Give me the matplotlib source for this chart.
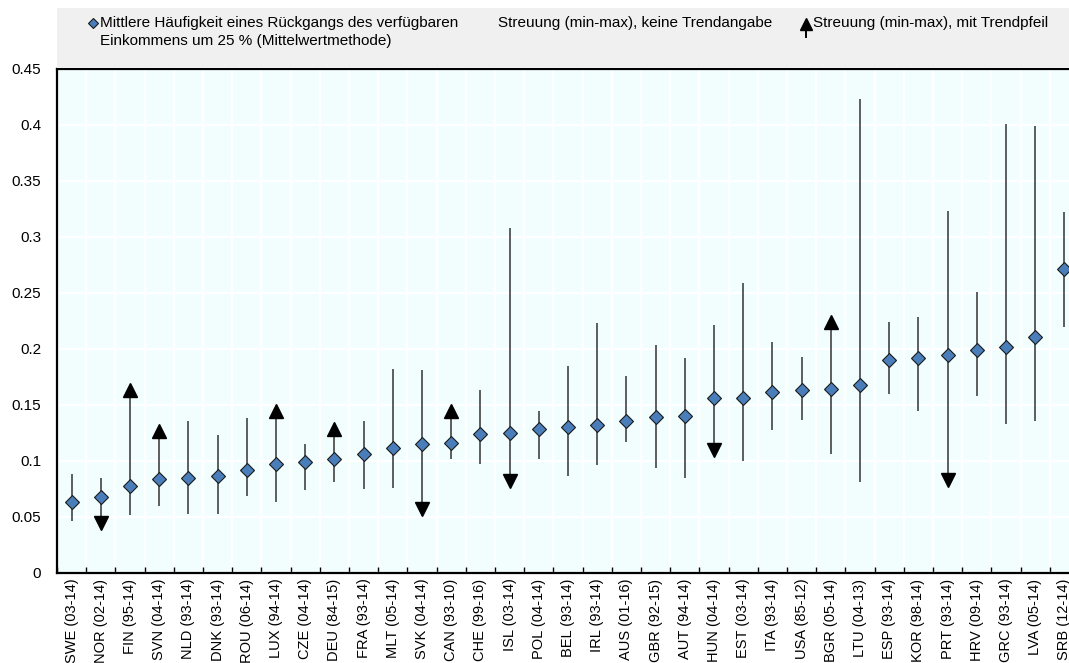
import matplotlib
matplotlib.use("Agg")
import matplotlib.pyplot as plt
from matplotlib.lines import Line2D
from matplotlib.patches import Rectangle

plt.rcParams['font.family'] = ['Liberation Sans', 'DejaVu Sans']
plt.rcParams['font.size'] = 11

# data
countries = ["SWE", "NOR", "FIN", "SVN", "NLD", "DNK", "ROU", "LUX", "CZE", "DEU",
             "FRA", "MLT", "SVK", "CAN", "CHE", "ISL", "POL", "BEL", "IRL", "AUS",
             "GBR", "AUT", "HUN", "EST", "ITA", "USA", "BGR", "LTU", "ESP", "KOR",
             "PRT", "HRV", "GRC", "LVA", "SRB"]
periods = ["03-14", "02-14", "95-14", "04-14", "93-14", "93-14", "06-14", "94-14", "04-14", "84-15",
           "93-14", "05-14", "04-14", "93-10", "99-16", "03-14", "04-14", "93-14", "93-14", "01-16",
           "92-15", "94-14", "04-14", "03-14", "93-14", "85-12", "05-14", "04-13", "93-14", "98-14",
           "93-14", "09-14", "93-14", "05-14", "12-14"]
mean = [0.063, 0.068, 0.078, 0.084, 0.085, 0.087, 0.092, 0.097, 0.099, 0.102,
        0.106, 0.112, 0.115, 0.116, 0.124, 0.125, 0.129, 0.130, 0.132, 0.136,
        0.139, 0.140, 0.156, 0.156, 0.162, 0.163, 0.164, 0.168, 0.190, 0.192,
        0.195, 0.199, 0.202, 0.211, 0.271]
low = [0.046, 0.045, 0.052, 0.060, 0.053, 0.053, 0.069, 0.063, 0.074, 0.081,
       0.075, 0.076, 0.057, 0.102, 0.097, 0.082, 0.102, 0.087, 0.096, 0.117,
       0.094, 0.085, 0.110, 0.100, 0.128, 0.137, 0.106, 0.081, 0.160, 0.145,
       0.083, 0.158, 0.133, 0.136, 0.220]
high = [0.088, 0.085, 0.163, 0.127, 0.136, 0.123, 0.138, 0.145, 0.115, 0.129,
        0.136, 0.182, 0.181, 0.145, 0.163, 0.308, 0.145, 0.185, 0.223, 0.176,
        0.204, 0.192, 0.221, 0.259, 0.206, 0.193, 0.224, 0.423, 0.224, 0.229,
        0.323, 0.251, 0.401, 0.399, 0.322]
trend = ["", "down", "up", "up", "", "", "", "up", "", "up",
         "", "", "down", "up", "", "down", "", "", "", "",
         "", "", "down", "", "", "", "up", "", "", "",
         "down", "", "", "", ""]

yticks = [0, 0.05, 0.1, 0.15, 0.2, 0.25, 0.3, 0.35, 0.4, 0.45]
ytick_labels = ["0", "0.05", "0.1", "0.15", "0.2", "0.25", "0.3", "0.35", "0.4", "0.45"]
labels = [f"{c} ({p})" for c, p in zip(countries, periods)]

W, H = 1069, 663
fig = plt.figure(figsize=(W / 100, H / 100), dpi=100)
ax = fig.add_axes([57 / W, 1 - 573 / H, 1 - 57 / W, (573 - 69) / H])
ax.set_facecolor("#F2FEFE")

x = list(range(len(countries)))

# min-max range lines
ax.vlines(x, low, high, color="#333333", lw=1.1, zorder=3)

# trend arrow heads
for i in x:
    if trend[i] == "up":
        ax.plot(i, high[i], marker="^", ms=10, color="black", zorder=4, clip_on=False)
    elif trend[i] == "down":
        ax.plot(i, low[i], marker="v", ms=10, color="black", zorder=4, clip_on=False)

# mean markers
ax.plot(x, mean, ls="none", marker="D", ms=7.6, mfc="#4A7EBB", mec="#1a1a1a",
        mew=0.8, zorder=5, clip_on=False)

ax.set_xlim(-0.5, 34.16)
ax.set_ylim(0, 0.45)
ax.set_yticks(yticks)
ax.set_yticklabels(ytick_labels, fontsize=11)
ax.set_xticks(x)
ax.set_xticklabels(labels, rotation=90, fontsize=10.5)
ax.set_xticks([i + 0.5 for i in x[:-1]] + [-0.5], minor=True)
ax.tick_params(axis="x", which="major", length=0, pad=4)
ax.tick_params(axis="x", which="minor", length=4, width=1, direction="in", color="black")
ax.tick_params(axis="y", length=0, pad=11.5)

ax.grid(True, axis="y", which="major", color="white", lw=1.6, zorder=1)
ax.grid(True, axis="x", which="minor", color="white", lw=1.6, zorder=1)
ax.set_axisbelow(True)

for s in ["left", "bottom", "top"]:
    ax.spines[s].set_linewidth(1.6)
    ax.spines[s].set_color("black")
ax.spines["right"].set_visible(False)

# legend band above the plot
fig.patches.append(Rectangle((57 / W, 1 - 68 / H), 1 - 57 / W, 60 / H,
                             transform=fig.transFigure, facecolor="#F0F0F0",
                             edgecolor="none", zorder=0))
y1 = 1 - 23 / H
y2 = 1 - 41 / H
fig.add_artist(Line2D([93 / W], [y1], marker="D", ms=5.5, mfc="#4A7EBB", mec="#1a1a1a",
                      mew=0.8, transform=fig.transFigure))
fig.text(100 / W, y1, "Mittlere Häufigkeit eines Rückgangs des verfügbaren",
         va="center", ha="left", fontsize=11)
fig.text(100 / W, y2, "Einkommens um 25 % (Mittelwertmethode)",
         va="center", ha="left", fontsize=11)
fig.text(498 / W, y1, "Streuung (min-max), keine Trendangabe",
         va="center", ha="left", fontsize=11)
fig.add_artist(Line2D([806 / W, 806 / W], [1 - 37 / H, 1 - 26 / H], color="black", lw=1.4,
                      transform=fig.transFigure))
fig.add_artist(Line2D([806 / W], [1 - 24 / H], marker="^", ms=9, color="black",
                      transform=fig.transFigure))
fig.text(813 / W, y1, "Streuung (min-max), mit Trendpfeil",
         va="center", ha="left", fontsize=11)

fig.savefig("out.png", dpi=100, facecolor="white")
